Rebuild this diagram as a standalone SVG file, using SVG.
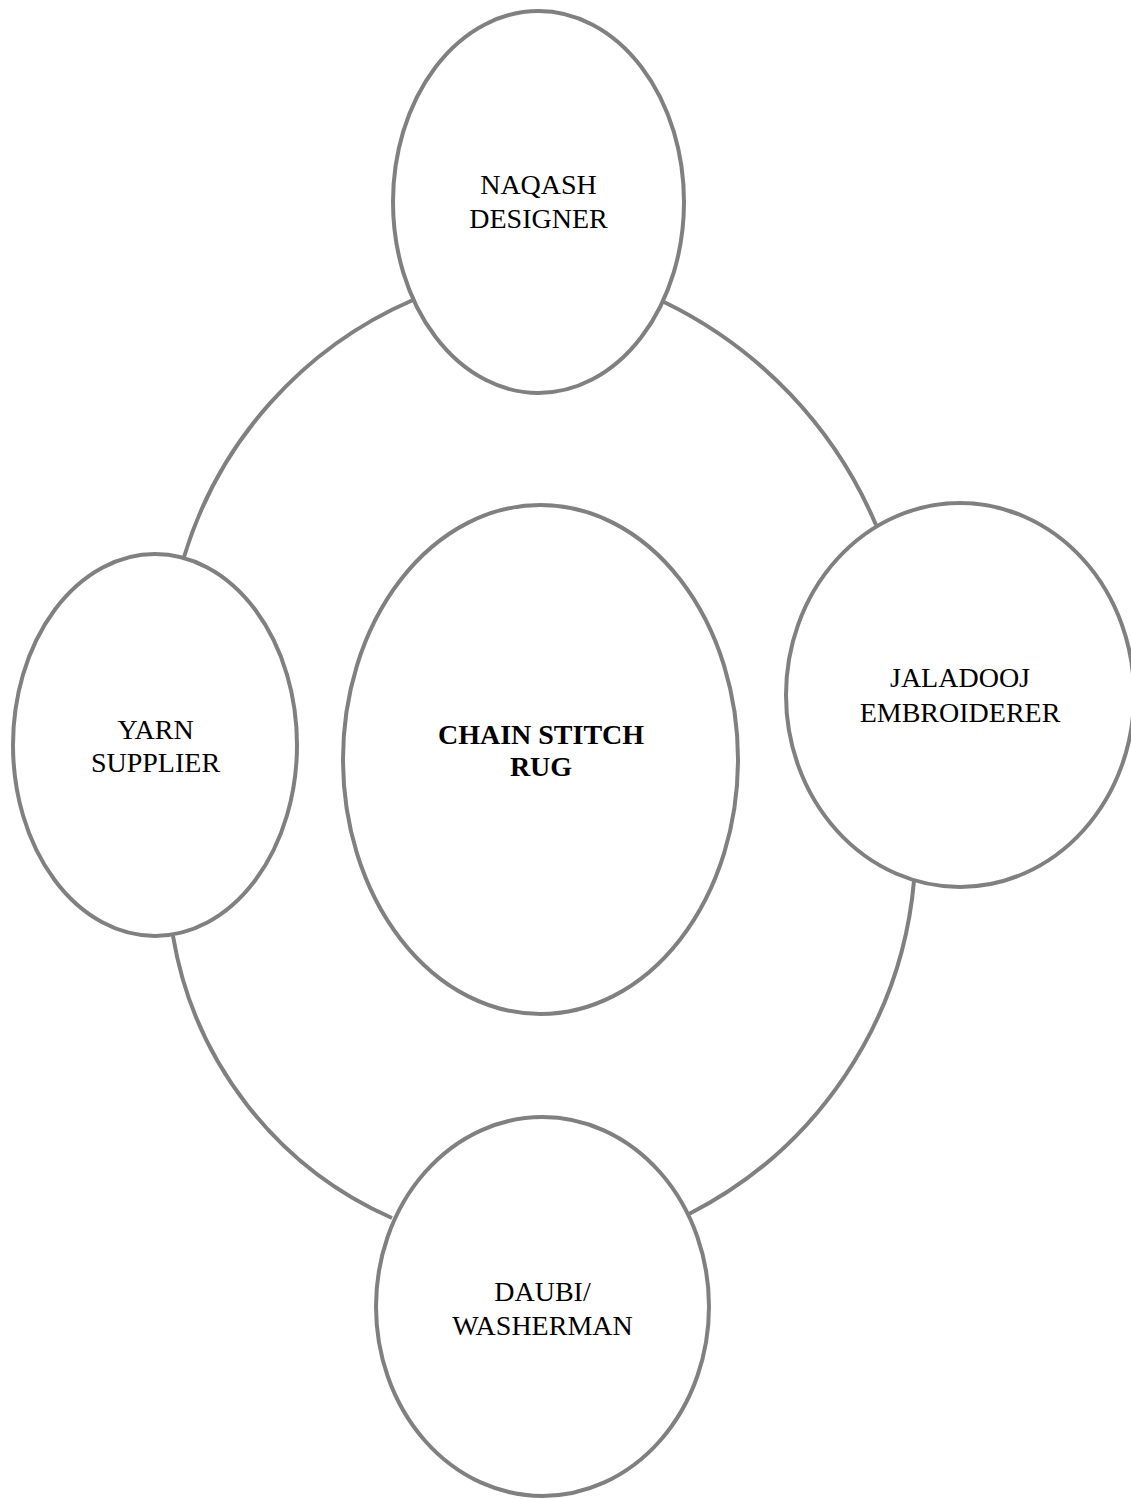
<svg xmlns="http://www.w3.org/2000/svg" width="1131" height="1499" viewBox="0 0 1131 1499">
  <style>
    .ring { fill: none; stroke: #808080; stroke-width: 4; }
    .node { fill: #ffffff; stroke: #808080; stroke-width: 4; }
    .label { font-family: "Liberation Serif", "Times New Roman", serif; font-size: 28px; fill: #000000; text-anchor: middle; }
    .bold { font-weight: bold; }
  </style>
  <rect x="0" y="0" width="1131" height="1499" fill="#ffffff"/>

  <!-- ring of arcs linking the outer nodes -->
  <g id="connectors">
    <path class="ring" d="M184,557 A408,408 0 0 1 413,300"/>
    <path class="ring" d="M664,302 A437,437 0 0 1 876,525"/>
    <path class="ring" d="M914,881 A415,415 0 0 1 689,1214"/>
    <path class="ring" d="M392,1218 A376,376 0 0 1 173,936"/>
  </g>

  <g id="naqash-designer">
    <ellipse class="node" cx="538.5" cy="202" rx="145.5" ry="191"/>
    <text class="label" x="538.5" y="194">NAQASH</text>
    <text class="label" x="538.5" y="228">DESIGNER</text>
  </g>

  <g id="yarn-supplier">
    <ellipse class="node" cx="155" cy="745" rx="142" ry="191"/>
    <text class="label" x="155.5" y="739">YARN</text>
    <text class="label" x="155.5" y="772">SUPPLIER</text>
  </g>

  <g id="chain-stitch-rug">
    <ellipse class="node" cx="540.5" cy="759.5" rx="197.5" ry="254.5"/>
    <text class="label bold" x="541" y="744">CHAIN STITCH</text>
    <text class="label bold" x="541" y="776">RUG</text>
  </g>

  <g id="jaladooj-embroiderer">
    <ellipse class="node" cx="960" cy="695" rx="174" ry="192"/>
    <text class="label" x="960" y="687">JALADOOJ</text>
    <text class="label" x="960" y="722">EMBROIDERER</text>
  </g>

  <g id="daubi-washerman">
    <ellipse class="node" cx="542.5" cy="1306.5" rx="166.5" ry="189.5"/>
    <text class="label" x="542.5" y="1301">DAUBI/</text>
    <text class="label" x="542.5" y="1335">WASHERMAN</text>
  </g>
</svg>
